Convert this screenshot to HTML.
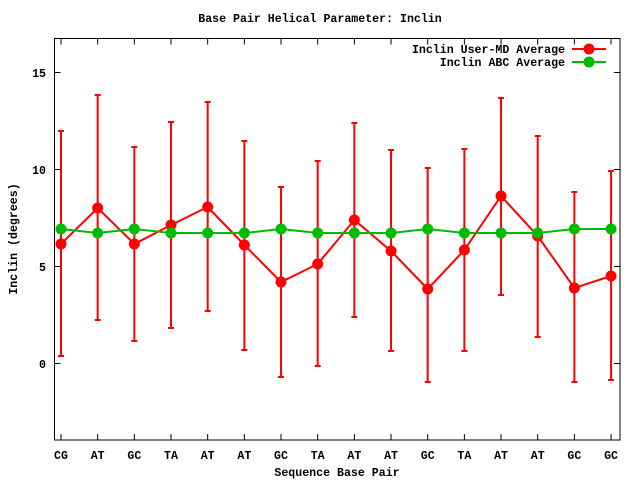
<!DOCTYPE html>
<html><head><meta charset="utf-8"><style>body{margin:0;background:#fff}svg{display:block}text{font-family:"Liberation Mono","DejaVu Sans Mono",monospace;font-size:11.6px;font-weight:bold;fill:#000}</style></head><body>
<svg width="640" height="480" viewBox="0 0 640 480" xmlns="http://www.w3.org/2000/svg">
<rect width="640" height="480" fill="#fff"/>
<text x="320" y="22" text-anchor="middle">Base Pair Helical Parameter: Inclin</text>
<rect x="54.5" y="38.5" width="565.5" height="401.5" fill="none" stroke="#000" stroke-width="1"/>
<g stroke="#000" stroke-width="1" id="ticks"></g>
<g text-anchor="end">
<text x="46" y="77">15</text><text x="46" y="174">10</text><text x="46" y="271">5</text><text x="46" y="368">0</text>
</g>
<text transform="translate(17,239) rotate(-90)" text-anchor="middle">Inclin (degrees)</text>
<text x="337" y="476" text-anchor="middle">Sequence Base Pair</text>
<g id="xl" text-anchor="middle"></g>
<g id="err" stroke="#f00" stroke-width="2"></g>
<polyline id="rl" fill="none" stroke="#f00" stroke-width="2"/>
<polyline id="gl" fill="none" stroke="#0b0" stroke-width="2"/>
<g id="rp" fill="#f00"></g>
<g id="gp" fill="#0b0"></g>
<text x="565" y="53" text-anchor="end">Inclin User-MD Average</text>
<text x="565" y="66" text-anchor="end">Inclin ABC Average</text>
<line x1="572" y1="49" x2="606" y2="49" stroke="#f00" stroke-width="2"/><circle cx="589" cy="49" r="5.5" fill="#f00"/>
<line x1="572" y1="62" x2="606" y2="62" stroke="#0b0" stroke-width="2"/><circle cx="589" cy="62" r="5.5" fill="#0b0"/>
</svg>
<script>
var ns="http://www.w3.org/2000/svg";
function el(p,t,a,txt){var e=document.createElementNS(ns,t);for(var k in a)e.setAttribute(k,a[k]);if(txt)e.textContent=txt;document.getElementById(p).appendChild(e);}
var labs=["CG","AT","GC","TA","AT","AT","GC","TA","AT","AT","GC","TA","AT","AT","GC","GC"];
var rm=[244,208,244,225,207,245,282,264,220,251,289,250,196,236,288,276];
var gm=[229,233,229,233,233,233,229,233,233,233,229,233,233,233,229,229];
var et=[131,95,147,122,102,141,187,161,123,150,168,149,98,136,192,171];
var eb=[356,320,341,328,311,350,377,366,317,351,382,351,295,337,382,380];
var rp=[],gp=[];
for(var i=0;i<16;i++){var x=61+i*36.67;
el("ticks","line",{x1:x,y1:440,x2:x,y2:434});el("ticks","line",{x1:x,y1:38.5,x2:x,y2:44.5});
el("xl","text",{x:x,y:459},labs[i]);
el("err","line",{x1:x,y1:et[i],x2:x,y2:eb[i]});
el("err","line",{x1:x-3,y1:et[i],x2:x+3,y2:et[i]});
el("err","line",{x1:x-3,y1:eb[i],x2:x+3,y2:eb[i]});
rp.push(x+","+rm[i]);gp.push(x+","+gm[i]);
el("rp","circle",{cx:x,cy:rm[i],r:5.5});el("gp","circle",{cx:x,cy:gm[i],r:5.5});}
[72.5,169.5,266.5,363.5].forEach(function(y){el("ticks","line",{x1:54.5,y1:y,x2:60.5,y2:y});el("ticks","line",{x1:620,y1:y,x2:614,y2:y});});
document.getElementById("rl").setAttribute("points",rp.join(" "));
document.getElementById("gl").setAttribute("points",gp.join(" "));
</script>
</body></html>
